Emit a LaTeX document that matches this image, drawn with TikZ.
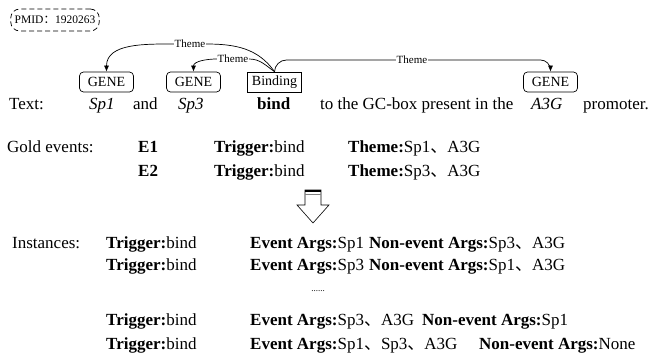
\documentclass[tikz,border=0pt]{standalone}
\usepackage{fontspec}
\setmainfont{Liberation Serif}
\newfontfamily\cjk{Noto Sans CJK SC}
\newcommand\dun{{\cjk 、}}
\usetikzlibrary{arrows.meta}
\begin{document}
\begin{tikzpicture}[x=1pt,y=1pt,
 txt/.style={anchor=base west,inner sep=0pt,font=\fontsize{17}{20}\selectfont},
 lbl/.style={fill=white,inner sep=0.6pt,font=\fontsize{11}{12}\selectfont},
 tag/.style={draw,rounded corners=4pt,minimum width=54pt,minimum height=20pt,inner sep=1pt,font=\fontsize{14}{16}\selectfont,line width=0.7pt},
 arc/.style={line width=0.7pt},
 arr/.style={arc,-{Latex[length=6pt,width=5pt]}}]
\useasboundingbox (0,0) rectangle (649,354);

\node[draw,dash pattern=on 5pt off 3pt,rounded corners=9pt,line width=0.7pt,inner xsep=4pt,minimum height=22pt,font=\fontsize{11.5}{14}\selectfont] (pmid) at (55,334) {PMID{\cjk ：}1920263};

\node[tag] (g1) at (106.5,272) {GENE};
\node[tag] (g2) at (193.5,272) {GENE};
\node[tag,rounded corners=0pt] (bind) at (274.5,272) {Binding};
\node[tag] (g3) at (550.5,272) {GENE};

\node[lbl] (t1) at (190,310) {Theme};
\node[lbl] (t2) at (233,295) {Theme};
\node[lbl] (t3) at (412,294) {Theme};

\draw[arc] (bind.north) to[out=125,in=0] (t1.east);
\draw[arr] (t1.west) to[out=180,in=90] (g1.north);
\draw[arc] (bind.north) to[out=145,in=0] (t2.east);
\draw[arr] (t2.west) to[out=180,in=90] (g2.north);
\draw[arc,rounded corners=12pt] (bind.north) |- (t3.west);
\draw[arr,rounded corners=10pt] (t3.east) -| (g3.north);

\node[txt] (ltext) at (9,244) {Text:};
\node[txt] (w1) at (89,244) {\itshape Sp1};
\node[txt] (w2) at (133,244) {and};
\node[txt] (w3) at (178,244) {\itshape Sp3};
\node[txt] (w4) at (257,244) {\bfseries bind};
\node[txt] (w5) at (320,244) {to the GC-box present in the};
\node[txt] (w6) at (531,244) {\itshape A3G};
\node[txt] (w7) at (583,244) {promoter.};

\node[txt] (gold) at (7,201) {Gold events:};
\node[txt] (e1) at (138,201) {\bfseries E1};
\node[txt] (e1t) at (214,201) {\textbf{Trigger:}bind};
\node[txt] (e1a) at (348,201) {\textbf{Theme:}Sp1\dun A3G};
\node[txt] (e2) at (138,177) {\bfseries E2};
\node[txt] (e2t) at (214,177) {\textbf{Trigger:}bind};
\node[txt] (e2a) at (348,177) {\textbf{Theme:}Sp3\dun A3G};

\draw[line width=0.6pt,fill=white] (305,164) -- (321,164) -- (321,149) -- (329,149) -- (313,131) -- (297,149) -- (305,149) -- cycle;
\draw[line width=2pt] (305,163) -- (321,163);
\draw[gray,line width=1pt] (305,159.5) -- (321,159.5);

\node[txt] (inst) at (12,105) {Instances:};
\node[txt] (i1t) at (106,105) {\textbf{Trigger:}bind};
\node[txt] (i1e) at (250,105) {\textbf{Event Args:}Sp1};
\node[txt] (i1n) at (369,105) {\textbf{Non-event Args:}Sp3\dun A3G};
\node[txt] (i2t) at (106,83) {\textbf{Trigger:}bind};
\node[txt] (i2e) at (250,83) {\textbf{Event Args:}Sp3};
\node[txt] (i2n) at (369,83) {\textbf{Non-event Args:}Sp1\dun A3G};
\node[anchor=base,inner sep=0pt,font=\fontsize{9}{10}\selectfont] (dots) at (318,62) {......};
\node[txt] (i3t) at (106,28) {\textbf{Trigger:}bind};
\node[txt] (i3e) at (250,28) {\textbf{Event Args:}Sp3\dun A3G};
\node[txt] (i3n) at (422,28) {\textbf{Non-event Args:}Sp1};
\node[txt] (i4t) at (106,5) {\textbf{Trigger:}bind};
\node[txt] (i4e) at (250,5) {\textbf{Event Args:}Sp1\dun Sp3\dun A3G};
\node[txt] (i4n) at (479,5) {\textbf{Non-event Args:}None};
\end{tikzpicture}
\end{document}
